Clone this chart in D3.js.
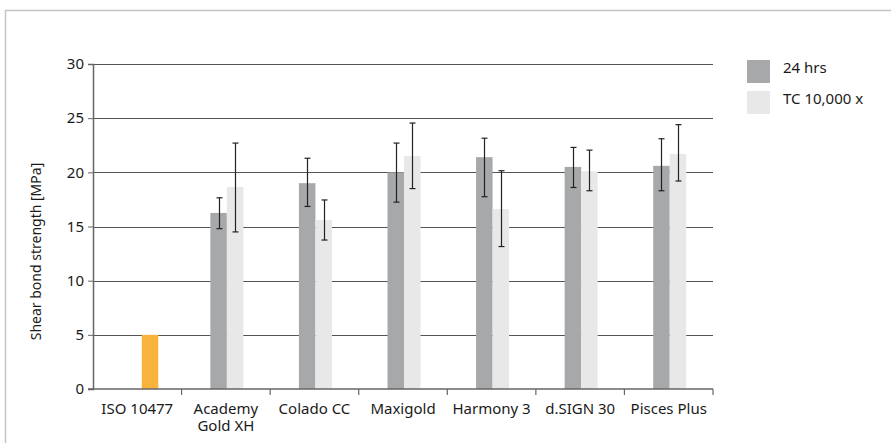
<!DOCTYPE html>
<html>
<head>
<meta charset="utf-8">
<script src="https://cdn.jsdelivr.net/npm/d3@7"></script>
<style>
  body { margin: 0; background: #fff; }
  text { font-family: "Noto Sans", sans-serif; fill: #1a1a1a; }
</style>
</head>
<body>
<div id="chart"></div>
<script>
// data
const categories = ['ISO 10477', 'Academy|Gold XH', 'Colado CC', 'Maxigold', 'Harmony 3', 'd.SIGN 30', 'Pisces Plus'];
const seriesNames = ['24 hrs', 'TC 10,000 x'];
const hrs24 = [null, 16.25, 19.0, 20.0, 21.4, 20.5, 20.6];
const hrs24Err = [null, [14.8, 17.65], [16.85, 21.3], [17.25, 22.7], [17.75, 23.15], [18.6, 22.3], [18.3, 23.1]];
const tc = [null, 18.65, 15.6, 21.5, 16.6, 20.1, 21.7];
const tcErr = [null, [14.5, 22.7], [13.75, 17.45], [18.5, 24.55], [13.15, 20.15], [18.3, 22.05], [19.2, 24.4]];
const isoValue = 5;
const yTicks = [0, 5, 10, 15, 20, 25, 30];

const width = 891, height = 443;
const margin = { top: 64, left: 93, right: 178, bottom: 54 };

const svg = d3.select('#chart').append('svg')
  .attr('width', width)
  .attr('height', height);

// outer frame
svg.append('rect')
  .attr('x', 5.5).attr('y', 10.5)
  .attr('width', width + 20).attr('height', height + 20)
  .attr('fill', 'none')
  .attr('stroke', '#c4c4c4')
  .attr('stroke-width', 1.5);

const x = d3.scaleBand()
  .domain(categories)
  .range([margin.left, width - margin.right]);

const y = d3.scaleLinear()
  .domain([0, 30])
  .range([height - margin.bottom, margin.top]);

const barW = 16.5;
const sub = d3.scaleBand().domain(seriesNames).range([0, barW * 2]);
const colors = { '24 hrs': '#a7a8aa', 'TC 10,000 x': '#e8e8e8' };
const offset = c => x(c) + x.bandwidth() / 2 - barW + 1;

// gridlines
svg.append('g')
  .selectAll('line')
  .data(yTicks.filter(d => d > 0))
  .join('line')
  .attr('x1', margin.left).attr('x2', width - margin.right)
  .attr('y1', d => Math.round(y(d)) + 0.5).attr('y2', d => Math.round(y(d)) + 0.5)
  .attr('stroke', '#555')
  .attr('stroke-width', 1);

// bars
const rows = categories.map((c, i) => ({ c, i }));
const bars = svg.append('g');

// ISO reference bar sits a bit right of its category centre
bars.append('rect')
  .attr('x', x(categories[0]) + x.bandwidth() / 2 + 4.5)
  .attr('y', y(isoValue))
  .attr('width', barW)
  .attr('height', y(0) - y(isoValue))
  .attr('fill', '#f7b33c');

[[hrs24, hrs24Err, seriesNames[0]], [tc, tcErr, seriesNames[1]]].forEach(([vals, errs, name]) => {
  const data = rows.filter(r => vals[r.i] != null);
  bars.selectAll(null)
    .data(data)
    .join('rect')
    .attr('x', r => offset(r.c) + sub(name))
    .attr('y', r => y(vals[r.i]))
    .attr('width', barW)
    .attr('height', r => y(0) - y(vals[r.i]))
    .attr('fill', colors[name]);

  const eb = svg.append('g').attr('stroke', '#222').attr('stroke-width', 1.2);
  data.forEach(r => {
    const cx = Math.round(offset(r.c) + sub(name) + barW / 2) + 0.5;
    const [lo, hi] = errs[r.i];
    eb.append('line').attr('x1', cx).attr('x2', cx).attr('y1', y(lo)).attr('y2', y(hi));
    eb.append('line').attr('x1', cx - 3).attr('x2', cx + 3).attr('y1', y(lo)).attr('y2', y(lo));
    eb.append('line').attr('x1', cx - 3).attr('x2', cx + 3).attr('y1', y(hi)).attr('y2', y(hi));
  });
});

// y axis
const yAxis = svg.append('g')
  .attr('transform', `translate(${margin.left},0)`)
  .call(d3.axisLeft(y).tickValues(yTicks).tickSize(5).tickPadding(4));
yAxis.select('.domain').attr('stroke', '#666').attr('stroke-width', 1.5);
yAxis.selectAll('.tick line').attr('stroke', '#666');
yAxis.selectAll('.tick text').style('font-size', '15px').attr('fill', '#1a1a1a');

// x axis (ticks at band boundaries)
const xAxisG = svg.append('g').attr('transform', `translate(0,${y(0)})`);
xAxisG.append('line')
  .attr('x1', margin.left - 5).attr('x2', width - margin.right)
  .attr('stroke', '#666').attr('stroke-width', 1.5);
xAxisG.selectAll('.sep')
  .data(categories.slice(1).map(c => x(c)).concat([width - margin.right]))
  .join('line')
  .attr('x1', d => d).attr('x2', d => d)
  .attr('y1', 0).attr('y2', 6)
  .attr('stroke', '#666').attr('stroke-width', 1.2);

xAxisG.selectAll('text')
  .data(categories)
  .join('text')
  .attr('text-anchor', 'middle')
  .attr('transform', c => `translate(${x(c) + x.bandwidth() / 2},0)`)
  .style('font-size', '15px')
  .each(function (c) {
    d3.select(this).selectAll('tspan')
      .data(c.split('|'))
      .join('tspan')
      .attr('x', 0)
      .attr('y', (d, i) => 25 + i * 17)
      .text(d => d);
  });

// y label
svg.append('text')
  .attr('transform', `translate(41,${(y(0) + y(30)) / 2 + 25}) rotate(-90)`)
  .attr('text-anchor', 'middle')
  .style('font-size', '14px')
  .text('Shear bond strength [MPa]');

// legend
const legend = svg.append('g').attr('transform', 'translate(747,60)');
seriesNames.forEach((name, i) => {
  legend.append('rect')
    .attr('x', 0).attr('y', i * 31)
    .attr('width', 23).attr('height', 23)
    .attr('fill', colors[name]);
  legend.append('text')
    .attr('x', 36).attr('y', i * 31 + 13)
    .style('font-size', '15px')
    .text(name);
});
</script>
</body>
</html>
